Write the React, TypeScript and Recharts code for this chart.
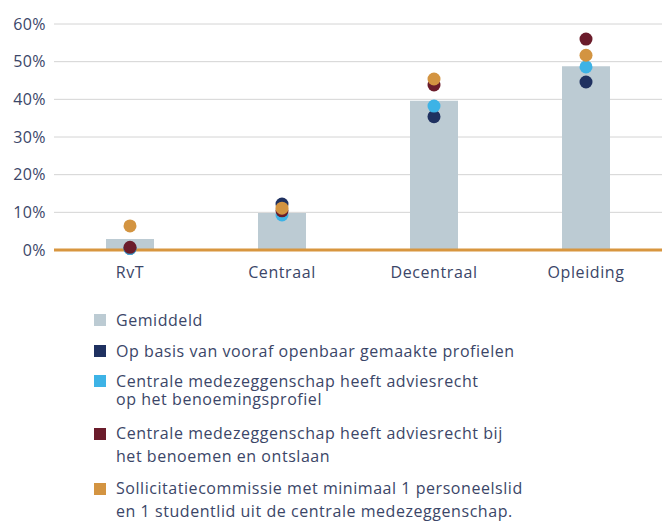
import React from 'react';
import {
  ComposedChart, Bar, Line, XAxis, YAxis, CartesianGrid
} from 'recharts';

// categories on the x axis
const categories = ['RvT', 'Centraal', 'Decentraal', 'Opleiding'];

// percentages per category
const gemiddeld = [2.9, 9.8, 39.6, 48.8];
const openbaarProfiel = [0.4, 12.2, 35.4, 44.6];
const adviesProfiel = [0.4, 9.3, 38.2, 48.6];
const adviesBenoemen = [0.7, 10.4, 43.8, 56.0];
const sollicitatie = [6.4, 11.1, 45.4, 51.7];

const yTicks = [0, 10, 20, 30, 40, 50, 60];

const TEXT = '#3b4668';
const FONT = '"Open Sans", sans-serif';

const series = [
  { key: 'openbaarProfiel', color: '#1f3160' },
  { key: 'adviesProfiel', color: '#3db3e6' },
  { key: 'adviesBenoemen', color: '#6b1c2b' },
  { key: 'sollicitatie', color: '#d39441' },
];

const legendItems = [
  { color: '#bccbd3', lines: ['Gemiddeld'], top: 309, lh: 22 },
  { color: '#1f3160', lines: ['Op basis van vooraf openbaar gemaakte profielen'], top: 340, lh: 22 },
  { color: '#3db3e6', lines: ['Centrale medezeggenschap heeft adviesrecht', 'op het benoemingsprofiel'], top: 372, lh: 18 },
  { color: '#6b1c2b', lines: ['Centrale medezeggenschap heeft adviesrecht bij', 'het benoemen en ontslaan'], top: 422, lh: 23 },
  { color: '#d39441', lines: ['Sollicitatiecommissie met minimaal 1 personeelslid', 'en 1 studentlid uit de centrale medezeggenschap.'], top: 477, lh: 23 },
];

const data = categories.map((c, i) => ({
  name: c,
  gemiddeld: gemiddeld[i],
  openbaarProfiel: openbaarProfiel[i],
  adviesProfiel: adviesProfiel[i],
  adviesBenoemen: adviesBenoemen[i],
  sollicitatie: sollicitatie[i],
}));

const App = () => {
  return (
    <div style={{ position: 'absolute', left: 0, top: 0, width: 662, height: 523, background: '#fff', fontFamily: FONT }}>
      <ComposedChart
        width={662}
        height={290}
        data={data}
        margin={{ top: 24, right: 0, bottom: 0, left: 0 }}
      >
        <CartesianGrid vertical={false} stroke="#d4d4d4" strokeWidth={1} />
        <XAxis
          dataKey="name"
          height={40}
          tickLine={false}
          tickMargin={11}
          axisLine={{ stroke: '#d8963f', strokeWidth: 3 }}
          tick={{ fill: TEXT, fontSize: 16, fontFamily: FONT, letterSpacing: 0.6 }}
        />
        <YAxis
          width={54}
          domain={[0, 60]}
          ticks={yTicks}
          axisLine={false}
          tickLine={false}
          tickFormatter={(v: number) => `${v}%`}
          tick={{ fill: TEXT, fontSize: 16, fontFamily: FONT, letterSpacing: 0.4 }}
        />
        <Bar dataKey="gemiddeld" fill="#bccbd3" barSize={48} isAnimationActive={false} />
        {series.map(s => (
          <Line
            key={s.key}
            dataKey={s.key}
            stroke="none"
            dot={{ r: 6.5, fill: s.color, stroke: 'none', strokeWidth: 0 }}
            activeDot={false}
            isAnimationActive={false}
          />
        ))}
      </ComposedChart>
      {legendItems.map((item, i) => (
        <div key={i} style={{ position: 'absolute', left: 94, top: item.top, color: TEXT, fontSize: 16, letterSpacing: 0.55 }}>
          <div style={{
            position: 'absolute', left: 0, top: (item.lh - 12) / 2,
            width: 12, height: 12, background: item.color
          }} />
          <div style={{ marginLeft: 22, lineHeight: `${item.lh}px`, whiteSpace: 'nowrap' }}>
            {item.lines.map((l, j) => <div key={j}>{l}</div>)}
          </div>
        </div>
      ))}
    </div>
  );
};

export default App;
